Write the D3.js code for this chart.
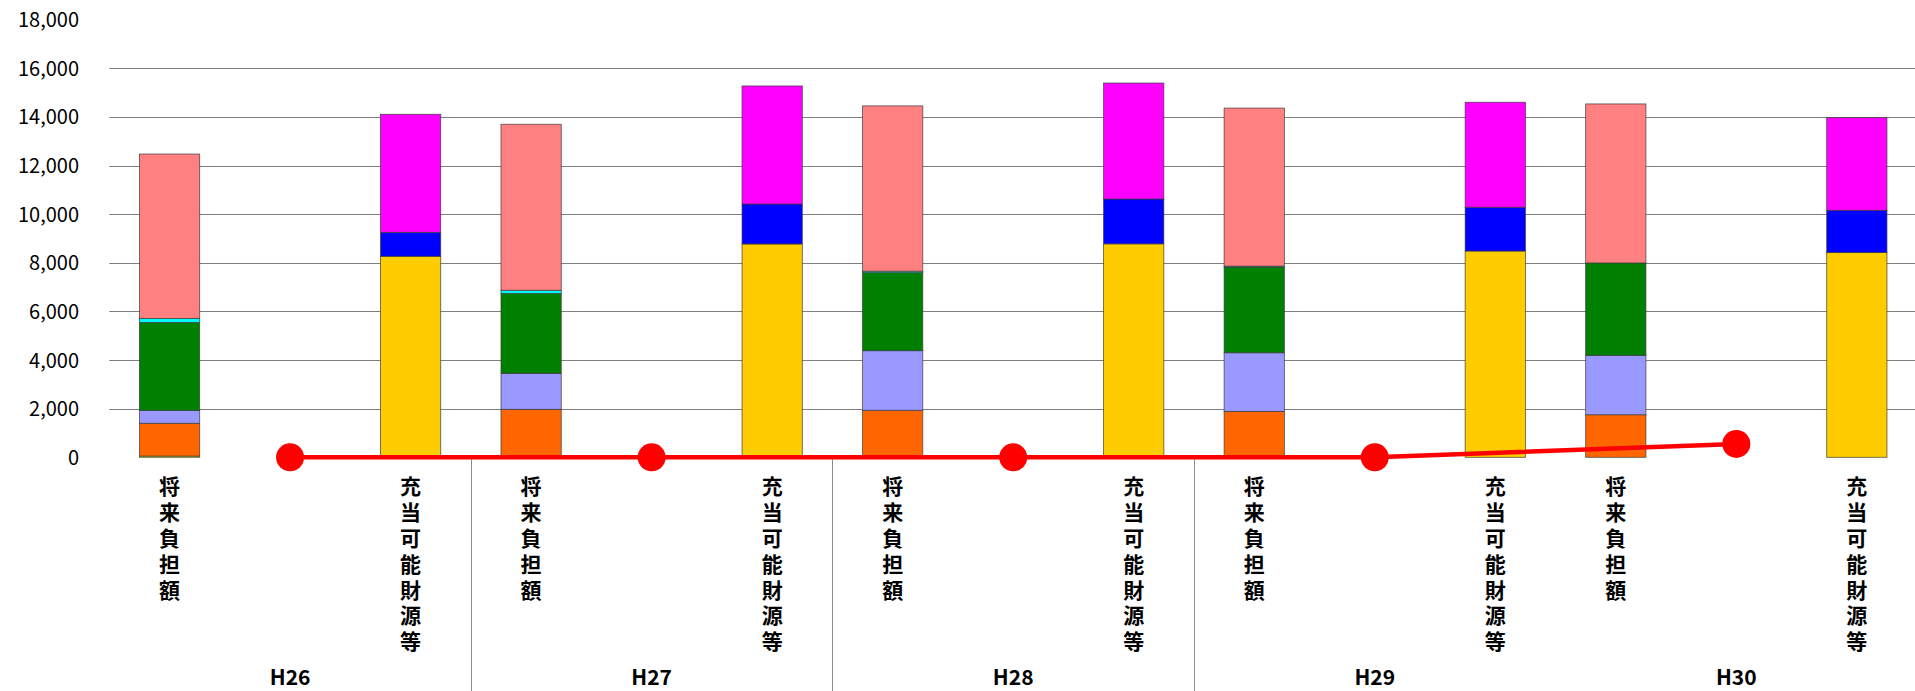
<!DOCTYPE html>
<html>
<head>
<meta charset="utf-8">
<script src="https://cdn.jsdelivr.net/npm/d3@7/dist/d3.min.js"></script>
<style>
  html, body { margin: 0; padding: 0; background: #fff; }
  svg { display: block; }
  text { font-family: "Noto Sans CJK JP", "Noto Sans", sans-serif; }
  .vlabel { writing-mode: vertical-rl; text-orientation: upright; }
</style>
</head>
<body>
<svg id="chart" width="1915" height="691"></svg>
<script>
// ---- data ----
const years = ["H26", "H27", "H28", "H29", "H30"];
const barLabels = ["将来負担額", "", "充当可能財源等"];
const yTicks = [0, 2000, 4000, 6000, 8000, 10000, 12000, 14000, 16000, 18000];

// 将来負担額 components (bottom to top)
const renketsuAkaji   = [50, 0, 0, 0, 0];               // yellow
const setsuritsuHojin = [1350, 1975, 1935, 1890, 1750]; // orange
const taishokuTeate   = [530, 1480, 2450, 2410, 2445];  // lavender
const koeiKigyo       = [3620, 3290, 3210, 3525, 3800]; // green
const saimuFutan      = [165, 125, 60, 40, 0];          // cyan
const chihosaiGenzai  = [6760, 6830, 6800, 6500, 6540]; // salmon
// 充当可能財源等 components (bottom to top)
const kijunZaisei     = [8270, 8775, 8780, 8485, 8420]; // gold
const tokuteiZaigen   = [985, 1645, 1845, 1800, 1740]; // blue
const juutouKikin     = [4855, 4855, 4770, 4320, 3810]; // magenta
// 将来負担比率の分子
const bunshi          = [0, 0, 0, 0, 550];

const seriesDefs = [
  { key: "連結実質赤字額", values: renketsuAkaji, slot: 0, color: "#FFFF00" },
  { key: "設立法人等の負債額等負担見込額", values: setsuritsuHojin, slot: 0, color: "#FF6600" },
  { key: "退職手当負担見込額", values: taishokuTeate, slot: 0, color: "#9999FF" },
  { key: "公営企業債等繰入見込額", values: koeiKigyo, slot: 0, color: "#008000" },
  { key: "債務負担行為に基づく支出予定額", values: saimuFutan, slot: 0, color: "#00FFFF" },
  { key: "一般会計等に係る地方債の現在高", values: chihosaiGenzai, slot: 0, color: "#FF8080" },
  { key: "基準財政需要額算入見込額", values: kijunZaisei, slot: 2, color: "#FFCC00" },
  { key: "特定財源見込額", values: tokuteiZaigen, slot: 2, color: "#0000FF" },
  { key: "充当可能基金", values: juutouKikin, slot: 2, color: "#FF00FF" }
];

// build category table: 3 slots per year
const cats = [];
years.forEach((yr, i) => {
  for (let s = 0; s < 3; s++) {
    const row = { id: i * 3 + s, year: yr, slot: s, label: barLabels[s] };
    seriesDefs.forEach(d => { row[d.key] = d.slot === s ? d.values[i] : 0; });
    cats.push(row);
  }
});

// ---- layout ----
const svg = d3.select("#chart");
const left = 109.3, right = 1917.1;
const x = d3.scaleBand().domain(cats.map(d => d.id)).range([left, right]).paddingInner(0).paddingOuter(0);
const y = d3.scaleLinear().domain([0, 18000]).range([457.3, 19.7]);
const barW = x.bandwidth() * 0.5;

// gridlines
svg.append("g").selectAll("line")
  .data(yTicks.filter(t => t > 0 && t < 18000))
  .join("line")
  .attr("x1", left).attr("x2", right)
  .attr("y1", d => Math.round(y(d)) + 0.5).attr("y2", d => Math.round(y(d)) + 0.5)
  .attr("stroke", "#7f7f7f").attr("stroke-width", 1.2);

// y axis labels
const yAxis = d3.axisLeft(y).tickValues(yTicks).tickFormat(d3.format(",")).tickSize(0).tickPadding(0);
const ga = svg.append("g").attr("transform", `translate(79,0)`).call(yAxis);
ga.select(".domain").remove();
ga.selectAll("text").attr("font-size", 20).attr("fill", "#000")
  .attr("font-family", "'Noto Sans CJK JP', sans-serif")
  .attr("dy", "0.35em");

// stacked bars
const stack = d3.stack().keys(seriesDefs.map(d => d.key));
const stacked = stack(cats);
const colorOf = Object.fromEntries(seriesDefs.map(d => [d.key, d.color]));
svg.append("g").selectAll("g")
  .data(stacked)
  .join("g")
  .attr("fill", s => colorOf[s.key])
  .selectAll("rect")
  .data(s => s.filter(p => p[1] - p[0] > 0).map(p => ({ p, id: p.data.id })))
  .join("rect")
  .attr("x", d => x(d.id) + (x.bandwidth() - barW) / 2)
  .attr("width", barW)
  .attr("y", d => y(d.p[1]))
  .attr("height", d => y(d.p[0]) - y(d.p[1]))
  .attr("stroke", "#3a3a3a").attr("stroke-width", 0.8).attr("stroke-opacity", 0.85);

// separators between year groups (below axis)
const sepYears = [1, 2, 3];
svg.append("g").selectAll("line")
  .data(sepYears)
  .join("line")
  .attr("x1", d => Math.round(x(d * 3)) + 0.5).attr("x2", d => Math.round(x(d * 3)) + 0.5)
  .attr("y1", y(0)).attr("y2", 691)
  .attr("stroke", "#8c8c8c").attr("stroke-width", 1);

// line series
const linePts = years.map((yr, i) => ({ id: i * 3 + 1, v: bunshi[i] }));
const cx = d => x(d.id) + x.bandwidth() / 2;
svg.append("path")
  .datum(linePts)
  .attr("fill", "none").attr("stroke", "#FF0000").attr("stroke-width", 4.5)
  .attr("d", d3.line().x(cx).y(d => y(d.v)));
svg.append("g").selectAll("circle")
  .data(linePts)
  .join("circle")
  .attr("cx", cx).attr("cy", d => y(d.v)).attr("r", 14)
  .attr("fill", "#FF0000");

// vertical category labels
svg.append("g").selectAll("text")
  .data(cats.filter(c => c.label))
  .join("text")
  .attr("class", "vlabel")
  .attr("x", cx)
  .attr("y", 476)
  .attr("font-size", 21).attr("font-weight", 700).attr("fill", "#000")
  .attr("letter-spacing", 4.8)
  .text(c => c.label);

// year group labels
svg.append("g").selectAll("text")
  .data(years)
  .join("text")
  .attr("x", (yr, i) => x(i * 3 + 1) + x.bandwidth() / 2)
  .attr("y", 685)
  .attr("text-anchor", "middle")
  .attr("font-size", 21).attr("font-weight", 700).attr("fill", "#000")
  .text(d => d);
</script>
</body>
</html>
